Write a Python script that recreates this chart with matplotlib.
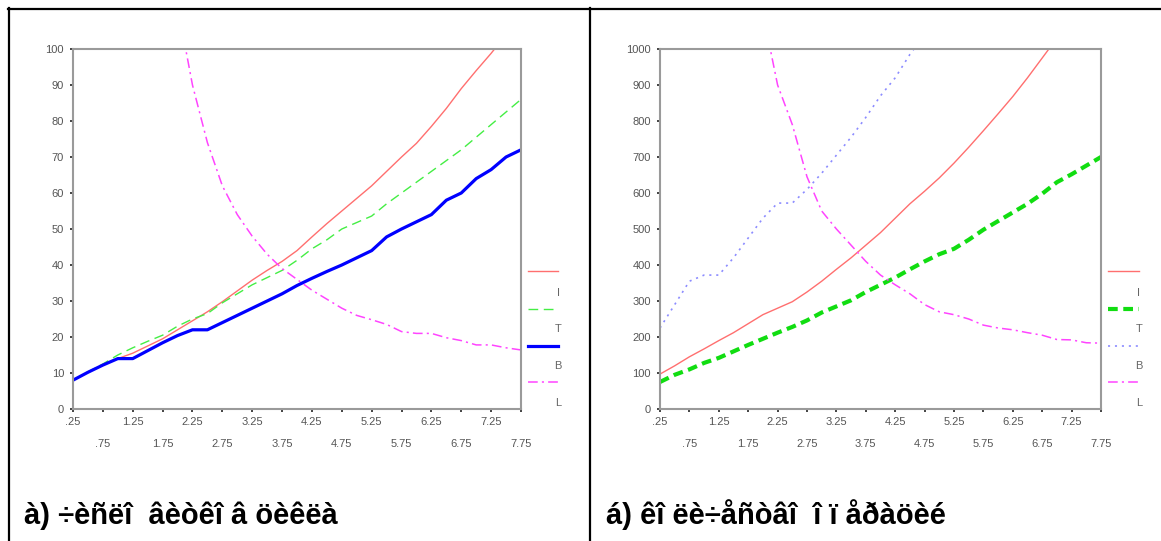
import numpy as np
import matplotlib
matplotlib.use("Agg")
import matplotlib.pyplot as plt
from matplotlib.lines import Line2D

plt.rcParams['font.family'] = ['Liberation Sans', 'DejaVu Sans']
plt.rcParams['lines.scale_dashes'] = False

# x values (shared by both panels)
x_vals = [0.25, 0.5, 0.75, 1.0, 1.25, 1.5, 1.75, 2.0, 2.25, 2.5, 2.75,
          3.0, 3.25, 3.5, 3.75, 4.0, 4.25, 4.5, 4.75, 5.0, 5.25, 5.5,
          5.75, 6.0, 6.25, 6.5, 6.75, 7.0, 7.25, 7.5, 7.75]

# panel a) - number of loop iterations
a_I = [8, 10.2, 12.3, 14, 15.5, 17.5, 19.5, 22, 24.5, 27, 29.8, 32.8, 35.8, 38.5,
       41, 44, 47.8, 51.5, 55, 58.5, 62, 66, 70, 73.8, 78.5, 83.5, 89, 94, 98.8,
       104, 110]
a_T = [8, 10.3, 12.5, 15, 17, 18.8, 20.5, 23, 25, 26.5, 29.5, 32, 34.5, 36.5,
       38.5, 41.3, 44.5, 47, 50, 51.8, 53.6, 57, 60, 63, 66, 69, 72, 75.5, 79,
       82.5, 86]
a_B = [8, 10.2, 12.2, 14, 14, 16.2, 18.4, 20.4, 22, 22, 24, 26, 28, 30, 32, 34.3,
       36.3, 38.2, 40, 42, 44, 47.8, 50, 52, 54, 58, 60, 64, 66.5, 70, 72]
a_L = [None, None, None, None, None, None, 140, 112, 90, 74, 62, 54, 48, 43, 39,
       36, 33, 30.5, 28, 26, 24.8, 23.5, 21.5, 21, 21, 19.8, 19, 17.8, 17.8, 17,
       16.4]

# panel b) - number of operations
b_I = [97, 120, 145, 167, 190, 212, 237, 262, 280, 298, 325, 355, 388, 420, 455,
       490, 530, 570, 605, 642, 683, 727, 773, 820, 868, 920, 975, 1030, 1090,
       1150, 1210]
b_T = [75, 95, 110, 128, 142, 160, 178, 195, 212, 228, 246, 268, 285, 302, 325,
       345, 365, 388, 410, 430, 445, 470, 498, 522, 546, 570, 598, 630, 652, 676,
       700]
b_B = [225, 290, 355, 372, 372, 420, 475, 530, 572, 572, 610, 655, 705, 755, 810,
       870, 920, 985, 1040, None, None, None, None, None, None, None, None, None,
       None, None, None]
b_L = [None, None, None, None, None, None, 1350, 1100, 900, 790, 645, 550, 500,
       455, 410, 372, 345, 320, 290, 270, 262, 250, 233, 225, 220, 212, 205, 193,
       192, 184, 183]

legend_names = ['I', 'T', 'B', 'L']
captions = ['à) ÷èñëî  âèòêî â öèêëà', 'á) êî ëè÷åñòâî  î ï åðàöèé']
xticks_top = [0.25, 1.25, 2.25, 3.25, 4.25, 5.25, 6.25, 7.25]
xticks_bot = [0.75, 1.75, 2.75, 3.75, 4.75, 5.75, 6.75, 7.75]

W, H = 1161, 541
fig = plt.figure(figsize=(W / 100, H / 100), dpi=100)


def fx(px):
    return px / W


def fy(py):
    return 1 - py / H


def to_arr(v):
    return np.array([np.nan if a is None else a for a in v], dtype=float)


red = '#ff6f6f'
styles_a = [
    dict(color=red, lw=1.0, ls='-'),
    dict(color='#44ee44', lw=1.0, ls=(0, (7, 4))),
    dict(color='#0000ff', lw=2.3, ls='-'),
    dict(color='#ff44ff', lw=1.1, ls=(0, (7, 3, 1.5, 3))),
]
styles_b = [
    dict(color=red, lw=1.0, ls='-'),
    dict(color='#11dd11', lw=3.0, ls=(0, (7, 4))),
    dict(color='#8c8cff', lw=1.2, ls=(0, (1.5, 3.5))),
    dict(color='#ff44ff', lw=1.1, ls=(0, (7, 3, 1.5, 3))),
]


def make_panel(left_px, right_px, series, styles, ymax, ystep, leg_x0, leg_x1):
    top_px, bot_px = 49, 409
    ax = fig.add_axes([fx(left_px), fy(bot_px), fx(right_px - left_px),
                       (bot_px - top_px) / H])
    for vals, st in zip(series, styles):
        ax.plot(x_vals, to_arr(vals), color=st['color'], lw=st['lw'],
                linestyle=st['ls'], solid_joinstyle='round')
    ax.set_xlim(0.25, 7.75)
    ax.set_ylim(0, ymax)
    ax.set_yticks(np.arange(0, ymax + 1, ystep))
    ax.set_yticklabels([str(int(v)) for v in np.arange(0, ymax + 1, ystep)])
    ax.set_xticks(xticks_top)
    ax.set_xticklabels([f"{v:.2f}".lstrip('0') for v in xticks_top])
    ax.set_xticks(xticks_bot, minor=True)
    ax.set_xticklabels([f"{v:.2f}".lstrip('0') for v in xticks_bot], minor=True)
    ax.tick_params(axis='both', which='both', direction='out', length=2.5,
                   width=1.2, color='#222222', labelsize=8,
                   labelcolor='#555555')
    ax.tick_params(axis='x', which='major', pad=3.5)
    ax.tick_params(axis='x', which='minor', pad=19)
    ax.tick_params(axis='y', pad=4)
    for sp in ax.spines.values():
        sp.set_color('#9a9a9a')
        sp.set_linewidth(1.5)
    # legend drawn to the right of the plot
    line_y = [271, 309, 346, 382]
    text_y = [293, 329, 366, 403]
    for st, ly, ty, name in zip(styles, line_y, text_y, legend_names):
        fig.add_artist(Line2D([fx(leg_x0), fx(leg_x1)], [fy(ly), fy(ly)],
                              color=st['color'], lw=st['lw'],
                              linestyle=st['ls']))
        fig.text(fx(leg_x1), fy(ty), name, fontsize=8, color='#666666',
                 ha='center', va='center')
    return ax


make_panel(73, 521, [a_I, a_T, a_B, a_L], styles_a, 100, 10, 528, 558)
make_panel(660, 1101, [b_I, b_T, b_B, b_L], styles_b, 1000, 100, 1108, 1139)

# table frame
frame_kw = dict(color='black', lw=1.6, transform=fig.transFigure)
fig.add_artist(Line2D([fx(8), fx(W)], [fy(9), fy(9)], **frame_kw))
fig.add_artist(Line2D([fx(9), fx(9)], [fy(8), fy(H)], **frame_kw))
fig.add_artist(Line2D([fx(590), fx(590)], [fy(8), fy(H)], **frame_kw))

fig.text(fx(24), fy(524), captions[0], fontsize=21, fontweight='bold',
         ha='left', va='baseline')
fig.text(fx(606), fy(524), captions[1], fontsize=21, fontweight='bold',
         ha='left', va='baseline')

fig.savefig('out.png', dpi=100, facecolor='white')
